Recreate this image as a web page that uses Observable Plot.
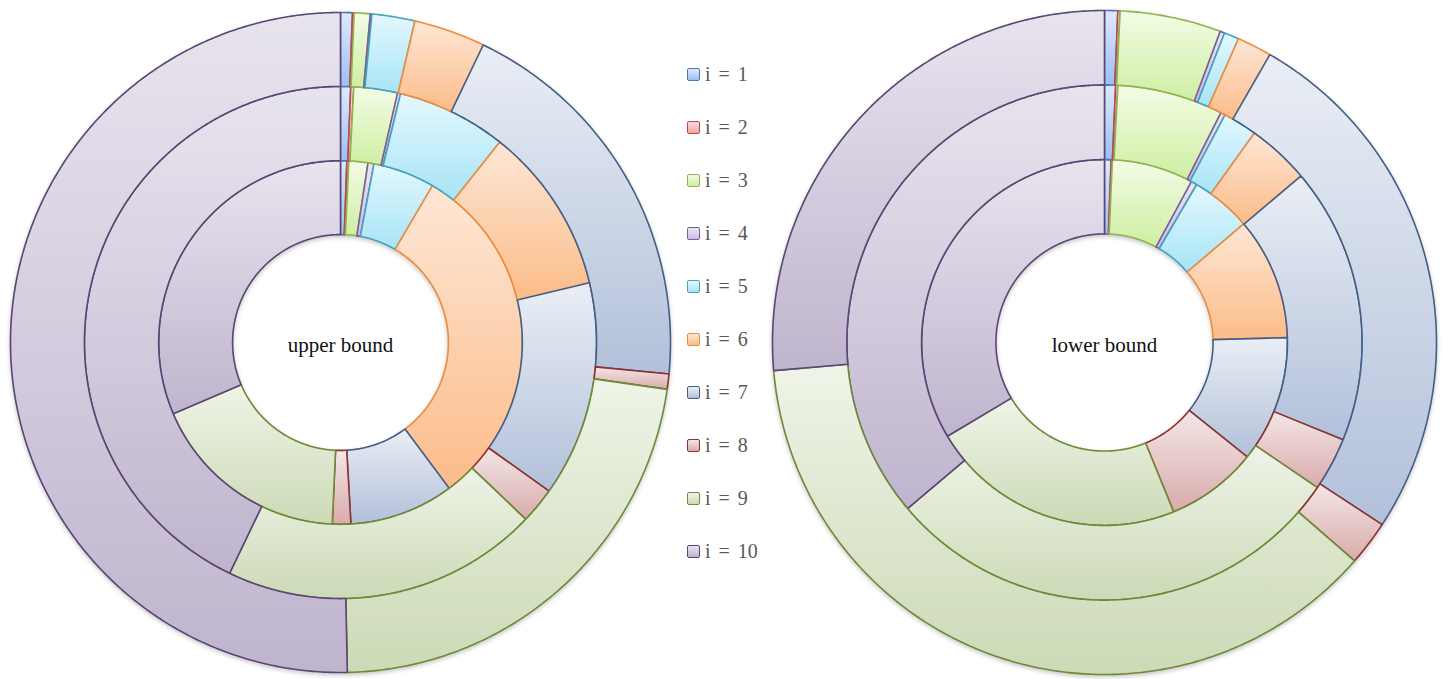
<!DOCTYPE html>
<html>
<head>
<meta charset="utf-8">
<script src="https://cdn.jsdelivr.net/npm/d3@7"></script>
<script src="https://cdn.jsdelivr.net/npm/@observablehq/plot@0.6"></script>
<style>
  html, body { margin: 0; padding: 0; background: #fff; }
  #chart { display: flex; width: 1444px; height: 679px; overflow: hidden; }
  .legend { position: relative; width: 88px; height: 679px; flex: none;
            font-family: "Liberation Serif", "Times New Roman", serif; color: #595959; }
  .item { position: absolute; left: 7px; display: flex; align-items: center;
          font-size: 20px; white-space: pre; word-spacing: 3px; height: 24px; margin-top: -12px; }
  .sw { width: 11px; height: 11px; border: 1.5px solid; border-radius: 2px; margin-right: 5px; box-sizing: content-box; }
</style>
</head>
<body>
<div id="chart"></div>
<script>
// Categories of the two multi-ring doughnuts
const categories = ["i = 1", "i = 2", "i = 3", "i = 4", "i = 5", "i = 6", "i = 7", "i = 8", "i = 9", "i = 10"];

// Share (%) of each category in every ring, innermost ring first
const upperInner  = [0.56, 0.17, 1.69, 0.53, 5.50, 31.36, 9.28, 1.64, 17.86, 31.42];
const upperMiddle = [0.64, 0.19, 2.75, 0.19, 6.92, 10.56, 13.60, 2.28, 20.00, 42.87];
const upperOuter  = [0.58, 0.08, 0.78, 0.08, 2.10, 3.50, 19.40, 0.75, 22.40, 50.33];

const lowerInner  = [0.58, 0.11, 7.19, 0.53, 5.36, 10.81, 11.17, 8.08, 22.61, 33.56];
const lowerMiddle = [0.69, 0.14, 6.64, 0.28, 2.14, 3.92, 17.36, 3.36, 29.33, 36.15];
const lowerOuter  = [0.64, 0.11, 4.92, 0.22, 0.72, 1.69, 25.94, 2.19, 37.22, 26.35];

// Office-style palette: border, light (top) and dark (bottom) gradient stops
const palette = [
  {border: "#4a78b5", light: "#dfe9fb", dark: "#9ebff2"},
  {border: "#b84a47", light: "#fadcdb", dark: "#f0a9a7"},
  {border: "#93b250", light: "#f3fce6", dark: "#cfeea2"},
  {border: "#7a5e9c", light: "#ede6f6", dark: "#cbb9e3"},
  {border: "#45a3bc", light: "#e4f8fe", dark: "#a7e4f6"},
  {border: "#ef8c3c", light: "#fee7d6", dark: "#fbbc89"},
  {border: "#445f86", light: "#eaeef5", dark: "#b2c0da"},
  {border: "#8e3230", light: "#f4e6e6", dark: "#d8abab"},
  {border: "#6f8a37", light: "#eff4e8", dark: "#ccdab6"},
  {border: "#5a4574", light: "#e8e4ee", dark: "#bfb4ce"}
];

// Ring boundaries as a fraction of the outer radius
const radii = [0.327, 0.551, 0.776, 1];

// Turn ring values into closed outlines of annular sectors (x right, y up)
function sectors(id, rings) {
  const rows = [];
  rings.forEach((values, k) => {
    const arcs = d3.pie().sort(null).value(d => d)(values);
    const r0 = radii[k], r1 = radii[k + 1];
    arcs.forEach((a, i) => {
      const span = a.endAngle - a.startAngle;
      const n = Math.max(2, Math.ceil(span / (Math.PI / 360)));
      const pts = [];
      for (let j = 0; j <= n; j++) {
        const t = a.startAngle + span * j / n;
        pts.push([r1 * Math.sin(t), r1 * Math.cos(t)]);
      }
      for (let j = n; j >= 0; j--) {
        const t = a.startAngle + span * j / n;
        pts.push([r0 * Math.sin(t), r0 * Math.cos(t)]);
      }
      pts.push(pts[0]);
      const fill = `url(#${id}-g${i})`, stroke = palette[i].border;
      pts.forEach(([x, y]) => rows.push({seg: `${k}-${i}`, x, y, fill, stroke}));
    });
  });
  return rows;
}

function donut(id, rings, label, m) {
  const rows = sectors(id, rings);
  const gradients = () => {
    const defs = d3.create("svg:defs");
    palette.forEach((p, i) => {
      const g = defs.append("linearGradient").attr("id", `${id}-g${i}`)
        .attr("x1", 0).attr("y1", 0).attr("x2", 0).attr("y2", 1);
      g.append("stop").attr("offset", "0%").attr("stop-color", p.light);
      g.append("stop").attr("offset", "100%").attr("stop-color", p.dark);
    });
    return defs.node();
  };
  return Plot.plot({
    width: m.width, height: 679,
    marginTop: m.top, marginBottom: m.bottom, marginLeft: m.left, marginRight: m.right,
    x: {domain: [-1, 1], axis: null},
    y: {domain: [-1, 1], axis: null},
    color: {type: "identity"},
    style: {background: "transparent", overflow: "visible"},
    marks: [
      gradients,
      Plot.line(rows, {
        x: "x", y: "y", z: "seg",
        fill: "fill", stroke: "stroke",
        strokeWidth: 1.6, strokeLinejoin: "round",
        imageFilter: "drop-shadow(0px 2px 2px rgba(0,0,0,0.22))"
      }),
      Plot.text([label], {
        text: d => d, frameAnchor: "middle", dy: 3,
        fontFamily: "Liberation Serif", fontSize: 21, fill: "#111"
      })
    ]
  });
}

const chart = document.getElementById("chart");
chart.append(donut("ub", [upperInner, upperMiddle, upperOuter], "upper bound",
  {width: 680, left: 10, right: 10, top: 12, bottom: 7}));

// Legend between the two doughnuts
const legend = document.createElement("div");
legend.className = "legend";
categories.forEach((c, i) => {
  const item = document.createElement("div");
  item.className = "item";
  item.style.top = `${74 + 53 * i}px`;
  const sw = document.createElement("span");
  sw.className = "sw";
  sw.style.borderColor = palette[i].border;
  sw.style.background = `linear-gradient(${palette[i].light}, ${palette[i].dark})`;
  const tx = document.createElement("span");
  tx.textContent = c;
  item.append(sw, tx);
  legend.append(item);
});
chart.append(legend);

chart.append(donut("lb", [lowerInner, lowerMiddle, lowerOuter], "lower bound",
  {width: 676, left: 4, right: 8, top: 10, bottom: 5}));
</script>
</body>
</html>
